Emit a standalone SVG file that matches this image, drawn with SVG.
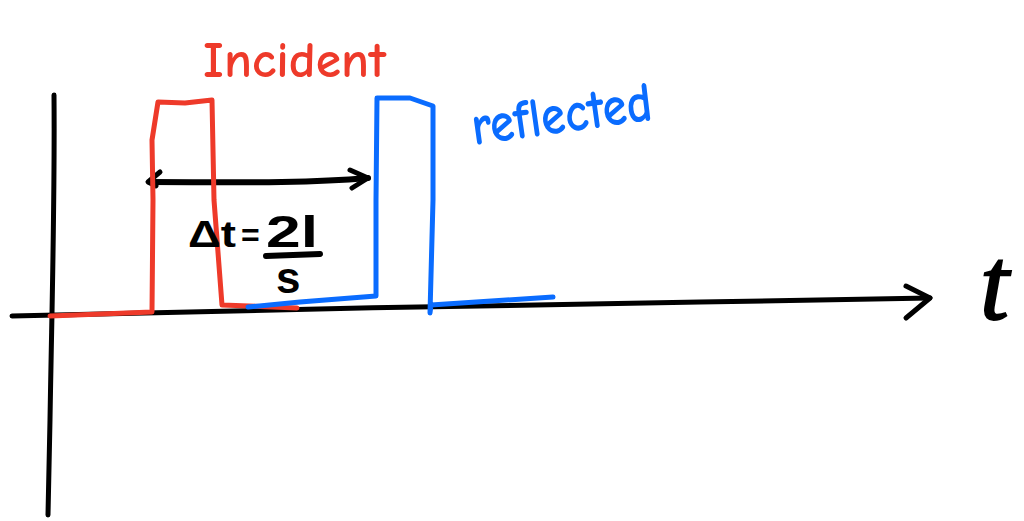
<svg xmlns="http://www.w3.org/2000/svg" width="1024" height="521" viewBox="0 0 1024 521">
<style>
.ax{fill:none;stroke:#000;stroke-width:5;stroke-linecap:round;stroke-linejoin:round}
.red{fill:none;stroke:#ee3a2a;stroke-width:5;stroke-linecap:round;stroke-linejoin:round}
.blue{fill:none;stroke:#0a6cff;stroke-width:5;stroke-linecap:round;stroke-linejoin:round}
.hand{font-family:"Comic Neue","Liberation Sans",sans-serif;font-weight:bold}
.math{font-family:"Liberation Sans",sans-serif;font-weight:bold;fill:#000}
</style>
<rect width="1024" height="521" fill="#fff"/>
<g id="connectors">
<path class="ax" d="M54,95 C55,200 52,300 50,420 L48,515"/>
<path class="ax" d="M12,316 C200,310 500,306 700,302 L930,298"/>
<path class="ax" d="M906,286 L930,298 L906,318"/>
<path class="ax" d="M150,182 C220,182 300,184 368,178" style="stroke-width:6"/>
<path class="ax" d="M160,172 L148,182 L156,186"/>
<path class="ax" d="M350,170 L368,178 L352,188"/>
</g>
<g id="incident">
<path class="red" d="M50,316 L152,312 L153,200 L152,140 L158,102 L185,103 L212,100 L214,200 L222,305 L297,308"/>
<text class="hand" x="203" y="77" font-size="50" fill="#ee3a2a" textLength="183" lengthAdjust="spacingAndGlyphs">Incident</text>
</g>
<g id="reflected">
<path class="blue" d="M248,307 L300,302 L376,296 L376,200 L377,98 L410,98 L433,106 L433,200 L430,313 L431,305 L553,297"/>
<text class="hand" x="474" y="145" font-size="56" fill="#0a6cff" transform="rotate(-8 474 145)" textLength="182" lengthAdjust="spacingAndGlyphs">reflected</text>
</g>
<g id="delta">
<text class="math" x="188" y="247" font-size="36" textLength="48" lengthAdjust="spacingAndGlyphs">Δt</text>
<text class="math" x="241" y="246" font-size="32">=</text>
<text class="math" x="266" y="247" font-size="44" textLength="52" lengthAdjust="spacingAndGlyphs">2l</text>
<path class="ax" d="M266,256 L320,254" style="stroke-width:6"/>
<text class="math" x="276" y="293" font-size="44">s</text>
</g>
<g id="t-label">
<text x="980" y="319" font-family="Liberation Serif,serif" font-style="italic" font-size="104" fill="#000" stroke="#000" stroke-width="2">t</text>
</g>
</svg>
